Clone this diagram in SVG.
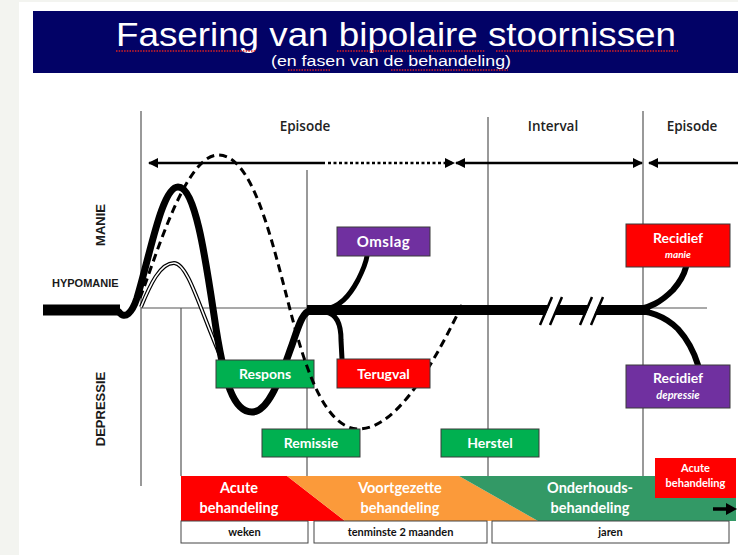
<svg xmlns="http://www.w3.org/2000/svg" width="738" height="555" viewBox="0 0 738 555">
<defs>
<style>
.vl{stroke:#555;stroke-width:1.2;fill:none}
.box{stroke:#3a3a3a;stroke-width:1}
.bt{font-family:Lato,"Liberation Sans",sans-serif;font-weight:bold;fill:#fff;text-anchor:middle}
.hd{font-family:"Open Sans","Liberation Sans",sans-serif;font-weight:600;font-size:13.5px;fill:#222;text-anchor:middle}
.ax{font-family:"Liberation Sans",Arial,sans-serif;font-weight:bold;fill:#1a1a1a}
.lb{font-family:Lato,"Liberation Sans",sans-serif;font-weight:bold;font-size:11px;fill:#111;text-anchor:middle}
.sq{stroke:#d22;stroke-width:1.4;stroke-dasharray:1.5 1.2;fill:none}
.thick{stroke:#000;fill:none;stroke-linecap:round;stroke-linejoin:round}
.bar{stroke:#000;fill:none;stroke-linecap:butt}
.arr{stroke:#000;stroke-width:2.5;fill:none}
</style>
<marker id="ah" viewBox="0 0 10 10" refX="9" refY="5" markerWidth="4.4" markerHeight="4" orient="auto-start-reverse" markerUnits="strokeWidth"><path d="M0,0 L10,5 L0,10 z" fill="#000"/></marker>
</defs>
<rect width="738" height="555" fill="#f3f4f0"/>
<rect x="19" y="2" width="719" height="553" fill="#fff"/>

<g id="title">
<rect x="33" y="11" width="705" height="62" fill="#020266"/>
<text x="396" y="46" font-family="'Liberation Sans',Arial,sans-serif" font-size="33" fill="#fff" text-anchor="middle" textLength="560" lengthAdjust="spacingAndGlyphs">Fasering van bipolaire stoornissen</text>
<text x="391" y="66" font-family="'Liberation Sans',Arial,sans-serif" font-size="14" fill="#fff" text-anchor="middle" textLength="240" lengthAdjust="spacingAndGlyphs">(en fasen van de behandeling)</text>
<path class="sq" d="M116,51 H255 M337,51 H485 M496,51 H678 M288,70 H330 M391,70 H508"/>
</g>

<g id="gridlines">
<line class="vl" x1="141" y1="111" x2="141" y2="486"/>
<line class="vl" x1="307" y1="170" x2="307" y2="476"/>
<line class="vl" x1="488" y1="117" x2="488" y2="476"/>
<line class="vl" x1="643" y1="111" x2="643" y2="476"/>
<line class="vl" x1="181" y1="308" x2="181" y2="476"/>
<line class="vl" x1="141" y1="308" x2="707" y2="308"/>
</g>

<g id="headers">
<text class="hd" x="305" y="131">Episode</text>
<text class="hd" x="553" y="131">Interval</text>
<text class="hd" x="692" y="131">Episode</text>
<text class="ax" font-size="13" transform="translate(105,225) rotate(-90)" text-anchor="middle">MANIE</text>
<text class="ax" font-size="13" transform="translate(105,409) rotate(-90)" text-anchor="middle">DEPRESSIE</text>
<text class="ax" font-size="11" x="52" y="287">HYPOMANIE</text>
</g>

<g id="connectors">
<line class="arr" x1="149" y1="163" x2="325" y2="163" marker-start="url(#ah)"/>
<line x1="328" y1="163" x2="454" y2="163" stroke="#000" stroke-width="2.5" stroke-dasharray="3 2.5" marker-end="url(#ah)"/>
<line class="arr" x1="456" y1="163" x2="642" y2="163" marker-start="url(#ah)" marker-end="url(#ah)"/>
<line class="arr" x1="649" y1="163" x2="740" y2="163" marker-start="url(#ah)"/>

<path d="M141,307 C150,285 160,263 174,263 C188,263 200,310 222,360" fill="none" stroke="#000" stroke-width="4"/>
<path d="M141,307 C150,285 160,263 174,263 C188,263 200,310 222,360" fill="none" stroke="#fff" stroke-width="1.6"/>

<path class="bar" d="M43,310 L120,310" stroke-width="11"/>
<path class="bar" d="M307,310 L650,310" stroke-width="10"/>
<path class="thick" stroke-width="7" d="M119,312 C125,320 132,313 137,298 C150,255 162,187 178,187 C195,187 205,255 214,315 C224,385 234,412 252,412 C270,412 282,372 292,345 C298,328 302,311 312,310"/>
<path class="thick" stroke-width="5" d="M322,310 C340,308 350,295 358,280 C363,270 366,263 367,256"/>
<path class="thick" stroke-width="5" d="M326,312 C337,314 341,325 341,340 L342,359"/>
<path class="thick" stroke-width="6" d="M628,310 C650,310 663,300 673,290 C680,282 684,275 686,267"/>
<path class="thick" stroke-width="6" d="M628,310 C650,310 667,318 678,329 C688,340 694,352 698,365"/>

<polygon points="541,325 553,297 562,297 550,325" fill="#fff"/>
<polygon points="581,325 593,297 602,297 590,325" fill="#fff"/>
<path d="M540,325 L552,297 M550,325 L562,297 M580,325 L592,297 M591,325 L603,297" stroke="#000" stroke-width="2.5"/>
</g>

<g id="respons">
<rect class="box" x="216" y="360" width="98" height="28" fill="#00b050"/>
<text class="bt" x="265" y="379" font-size="14">Respons</text>
</g>

<path id="dashed" d="M140,298 C155,260 185,155 218,155 C250,155 268,225 285,290 C298,340 318,428 358,429 C400,430 440,350 462,305" fill="none" stroke="#000" stroke-width="3" stroke-dasharray="8 5"/>

<g id="omslag">
<rect class="box" x="337" y="227" width="93" height="29" fill="#7030a0"/>
<text class="bt" x="383.5" y="247" font-size="15" letter-spacing="0.5">Omslag</text>
</g>
<g id="terugval">
<rect class="box" x="337" y="359" width="93" height="29" fill="#ff0000"/>
<text class="bt" x="383.5" y="379" font-size="14">Terugval</text>
</g>
<g id="remissie">
<rect class="box" x="262" y="429" width="98" height="28" fill="#00b050"/>
<text class="bt" x="311" y="448" font-size="14">Remissie</text>
</g>
<g id="herstel">
<rect class="box" x="441" y="429" width="98" height="28" fill="#00b050"/>
<text class="bt" x="490" y="448" font-size="14">Herstel</text>
</g>
<g id="recidief-manie">
<rect class="box" x="626" y="224" width="104" height="43" fill="#ff0000"/>
<text class="bt" x="678" y="243" font-size="14">Recidief</text>
<text class="bt" x="678" y="258" font-size="10" font-style="italic">manie</text>
</g>
<g id="recidief-depressie">
<rect class="box" x="626" y="365" width="104" height="43" fill="#7030a0"/>
<text class="bt" x="678" y="383" font-size="14">Recidief</text>
<text class="bt" x="678" y="399" font-size="11" font-style="italic" font-weight="normal">depressie</text>
</g>

<g id="treatment-bar">
<polygon points="181,476 287,476 345,521 181,521" fill="#ff0000"/>
<polygon points="287,476 459,476 538,521 345,521" fill="#fb9a3a"/>
<polygon points="459,476 736,476 736,521 538,521" fill="#339966"/>
<text class="bt" x="239" y="493" font-size="14.5">Acute</text>
<text class="bt" x="239" y="513" font-size="14.5">behandeling</text>
<text class="bt" x="400" y="493" font-size="14.5" fill="#fff8ee">Voortgezette</text>
<text class="bt" x="400" y="513" font-size="14.5" fill="#fff8ee">behandeling</text>
<text class="bt" x="590" y="493" font-size="14.5">Onderhouds-</text>
<text class="bt" x="590" y="513" font-size="14.5">behandeling</text>
<line x1="713" y1="509" x2="728" y2="509" stroke="#000" stroke-width="3.5"/>
<polygon points="726,503 737,509 726,515" fill="#000"/>
</g>
<g id="acute-2">
<rect x="655" y="458" width="81" height="40" fill="#ff0000"/>
<text class="bt" x="695.5" y="472" font-size="11" font-weight="normal">Acute</text>
<text class="bt" x="695.5" y="487" font-size="11" font-weight="normal">behandeling</text>
</g>
<g id="durations">
<rect x="181" y="521" width="127" height="22" fill="#fff" stroke="#444" stroke-width="1"/>
<text class="lb" x="244.5" y="536">weken</text>
<rect x="314" y="521" width="173" height="22" fill="#fff" stroke="#444" stroke-width="1"/>
<text class="lb" x="400.5" y="536">tenminste 2 maanden</text>
<rect x="492" y="521" width="237" height="22" fill="#fff" stroke="#444" stroke-width="1"/>
<text class="lb" x="610.5" y="536">jaren</text>
</g>
</svg>
